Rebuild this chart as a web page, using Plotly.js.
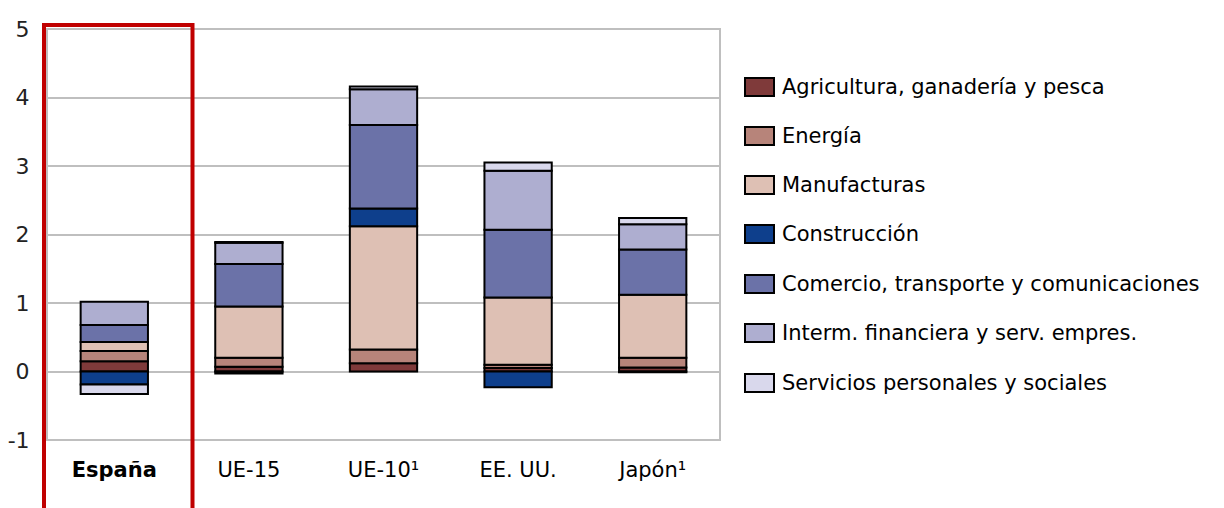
<!DOCTYPE html>
<html>
<head>
<meta charset="utf-8">
<script src="https://cdn.plot.ly/plotly-3.0.1.min.js"></script>
<style>html,body{margin:0;padding:0;background:#fff;}#chart{width:1224px;height:508px;}</style>
</head>
<body>
<div id="chart"></div>
<script>
const categories = ['España', 'UE-15', 'UE-10¹', 'EE. UU.', 'Japón¹'];
const tickLabels = ['<b>España</b>', 'UE-15', 'UE-10¹', 'EE. UU.', 'Japón¹'];
const yTickVals = [-1, 0, 1, 2, 3, 4, 5];
const yTickText = ['-1', '0', '1', '2', '3', '4', '5'];

const seriesNames = [
  'Agricultura, ganadería y pesca',
  'Energía',
  'Manufacturas',
  'Construcción',
  'Comercio, transporte y comunicaciones',
  'Interm. financiera y serv. empres.',
  'Servicios personales y sociales'
];
const agricultura = [0.15, 0.07, 0.12, 0.05, 0.06];
const energia     = [0.15, 0.13, 0.20, 0.05, 0.14];
const manufacturas= [0.13, 0.75, 1.80, 0.98, 0.92];
const construccion= [-0.19, -0.03, 0.26, -0.23, -0.01];
const comercio    = [0.25, 0.62, 1.22, 0.99, 0.66];
const intermFin   = [0.34, 0.31, 0.52, 0.86, 0.37];
const servicios   = [-0.14, 0.01, 0.04, 0.12, 0.09];

const seriesValues = [agricultura, energia, manufacturas, construccion, comercio, intermFin, servicios];
const colors = ['#7F3A3A', '#B7847A', '#DEC0B4', '#0E3F8C', '#6B72A8', '#AEAED0', '#D9D8EC'];

const traces = seriesValues.map((vals, i) => ({
  type: 'bar',
  name: seriesNames[i],
  x: categories,
  y: vals,
  marker: {color: colors[i], line: {color: '#000', width: 2}},
  hoverinfo: 'x+y+name'
}));

// plot area in pixels
const L = 47, R = 720, T = 29, B = 440;
const W = R - L, H = B - T;
const px = x => (x - L) / W;
const py = y => (B - y) / H;

const FONT = 'DejaVu Sans, Verdana, sans-serif';
const shapes = [];
const annotations = [];

// plot border
shapes.push({type: 'rect', xref: 'paper', yref: 'paper', x0: 0, x1: 1, y0: 0, y1: 1,
  line: {color: '#BFBFBF', width: 2}, layer: 'below'});

// legend
const legendY = [87, 136, 185, 234, 284, 333, 383];
seriesNames.forEach((name, i) => {
  const cy = legendY[i];
  shapes.push({type: 'rect', xref: 'paper', yref: 'paper',
    x0: px(745), x1: px(774), y0: py(cy + 9), y1: py(cy - 9),
    fillcolor: colors[i], line: {color: '#000', width: 2}});
  annotations.push({xref: 'paper', yref: 'paper', x: px(780), y: py(cy),
    xanchor: 'left', yanchor: 'middle', showarrow: false, text: name,
    font: {family: FONT, size: 21, color: '#000'}});
});

// red highlight frame around España
shapes.push({type: 'path', xref: 'paper', yref: 'paper',
  path: `M ${px(44)} ${py(520)} L ${px(44)} ${py(25)} L ${px(192.5)} ${py(25)} L ${px(192.5)} ${py(520)}`,
  line: {color: '#C00000', width: 4}, layer: 'above'});

const layout = {
  width: 1224, height: 508,
  margin: {l: L, r: 1224 - R, t: T, b: 508 - B, pad: 0},
  paper_bgcolor: '#fff', plot_bgcolor: '#fff',
  barmode: 'relative',
  bargap: 0.5,
  showlegend: false,
  font: {family: FONT, color: '#000'},
  xaxis: {
    tickvals: categories, ticktext: tickLabels,
    showgrid: false, zeroline: false, showline: false,
    ticks: 'outside', ticklen: 11, tickcolor: 'rgba(0,0,0,0)',
    tickfont: {family: FONT, size: 21, color: '#000'}
  },
  yaxis: {
    range: [-1, 5], tickvals: yTickVals, ticktext: yTickText,
    showgrid: true, gridcolor: '#BFBFBF', gridwidth: 2,
    zeroline: true, zerolinecolor: '#BFBFBF', zerolinewidth: 2,
    showline: false,
    ticks: 'outside', ticklen: 12, tickcolor: 'rgba(0,0,0,0)',
    tickfont: {family: FONT, size: 22, color: '#222'}
  },
  shapes: shapes,
  annotations: annotations
};

Plotly.newPlot('chart', traces, layout, {displayModeBar: false, staticPlot: true});
</script>
</body>
</html>
